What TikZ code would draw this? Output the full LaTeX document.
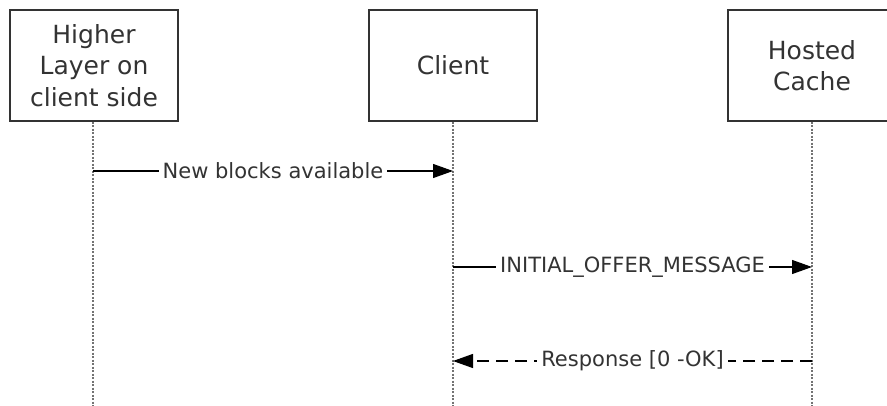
\documentclass[tikz,border=0pt]{standalone}
\usepackage{fontspec}
\setmainfont{DejaVu Sans}
\usetikzlibrary{arrows.meta}
\begin{document}
\begin{tikzpicture}[x=1pt,y=-1pt,
  actor/.style={draw=black!80,line width=1.4pt,fill=white,minimum width=168pt,minimum height=111pt,align=center,font=\fontsize{25}{31.5}\selectfont,text=black!80,inner sep=0pt},
  life/.style={draw=black!55,line width=1.6pt,dash pattern=on 2pt off 1.5pt},
  msg/.style={draw=black,line width=1.2pt,-{Triangle[length=20pt,width=14pt]}},
  rmsg/.style={msg,dash pattern=on 12pt off 7pt},
  lbl/.style={fill=white,inner xsep=4pt,inner ysep=2pt,font=\fontsize{21}{24}\selectfont,text=black!80}]
\useasboundingbox (0,0) rectangle (887,405);
\clip (0,0) rectangle (887,405);
\node[actor] (hl) at (94,65.5) {Higher\\Layer on\\client side};
\node[actor] (cl) at (453,65.5) {Client};
\node[actor] (hc) at (812,65.5) {Hosted\\Cache};
\coordinate (hlb) at (93,410);
\coordinate (clb) at (453,410);
\coordinate (hcb) at (812,410);
\draw[life] (hl.south -| hlb) -- (hlb);
\draw[life] (cl.south) -- (clb);
\draw[life] (hc.south) -- (hcb);
\coordinate (a1) at (93,171);
\coordinate (b1) at (453,171);
\coordinate (a2) at (453,267);
\coordinate (b2) at (812,267);
\coordinate (a3) at (812,361);
\coordinate (b3) at (453,361);
\draw[msg] (a1) -- node[lbl] {New blocks available} (b1);
\draw[msg] (a2) -- node[lbl] {INITIAL\_OFFER\_MESSAGE} (b2);
\draw[rmsg] (a3) -- node[lbl] {Response [0 -OK]} (b3);
\end{tikzpicture}
\end{document}
